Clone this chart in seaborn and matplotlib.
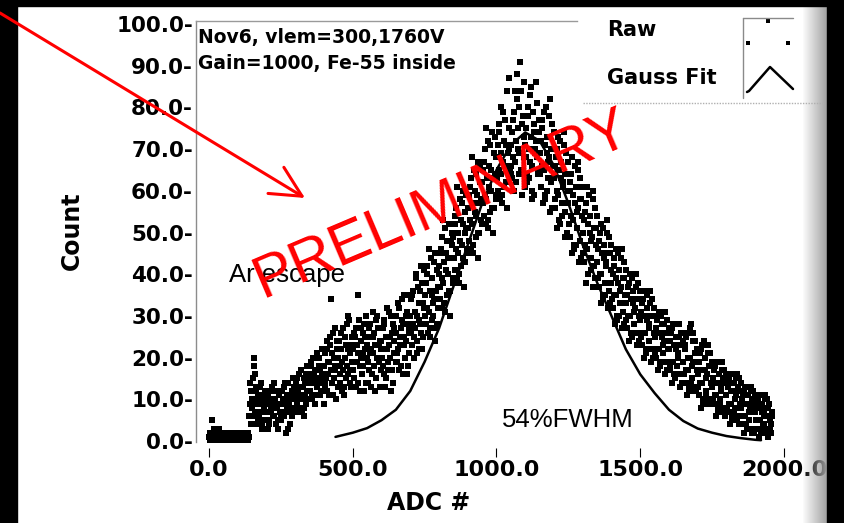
import numpy as np
import pandas as pd
import matplotlib
matplotlib.use("Agg")
import matplotlib.pyplot as plt
import seaborn as sns
from matplotlib.patches import Rectangle, FancyArrowPatch

# ADC channel grid of the raw spectrum (every 5th channel)
channels = np.arange(0, 1960, 5)

# three readings of the scattered counts per channel step, one line = 50 ADC
counts_a = [
    1, 0, 5, 1, 2, 0, 1, 3, 1, 0,
    1, 2, 1, 0, 1, 1, 2, 1, 0, 1,
    1, 0, 2, 1, 1, 0, 1, 2, 6, 12,
    10, 20, 7, 13, 5, 9, 11, 3, 8, 12,
    7, 11, 4, 9, 13, 6, 10, 8, 3, 12,
    9, 12, 6, 14, 8, 3, 11, 10, 7, 13,
    11, 15, 8, 13, 17, 10, 6, 14, 12, 18,
    15, 19, 11, 16, 9, 21, 14, 17, 12, 18,
    18, 13, 22, 16, 25, 34, 11, 20, 17, 24,
    20, 14, 26, 17, 11, 23, 28, 16, 21, 13,
    22, 15, 27, 19, 35, 12, 24, 18, 28, 14,
    23, 17, 28, 13, 21, 26, 15, 30, 19, 24,
    24, 18, 29, 15, 22, 31, 20, 26, 14, 27,
    26, 19, 32, 23, 29, 16, 35, 24, 28, 21,
    30, 23, 36, 27, 40, 21, 33, 28, 38, 25,
    35, 28, 42, 31, 25, 39, 33, 45, 27, 37,
    42, 34, 49, 38, 31, 45, 40, 52, 36, 47,
    49, 41, 56, 45, 38, 53, 47, 60, 43, 51,
    56, 48, 63, 52, 45, 60, 54, 67, 50, 58,
    62, 54, 70, 58, 51, 66, 60, 74, 56, 64,
    68, 60, 76, 64, 57, 72, 66, 84, 62, 70,
    71, 63, 79, 67, 88, 75, 69, 84, 65, 73,
    71, 64, 78, 67, 85, 60, 74, 69, 81, 65,
    69, 61, 77, 65, 58, 73, 67, 82, 62, 70,
    63, 56, 70, 59, 52, 67, 61, 74, 55, 64,
    57, 49, 64, 53, 46, 61, 55, 67, 48, 58,
    50, 43, 57, 46, 40, 54, 48, 60, 42, 51,
    43, 37, 50, 40, 34, 47, 42, 53, 36, 45,
    38, 32, 44, 35, 29, 41, 36, 46, 31, 39,
    33, 27, 38, 30, 25, 36, 31, 40, 26, 34,
    29, 23, 34, 26, 21, 32, 27, 36, 22, 30,
    25, 20, 30, 22, 18, 28, 23, 31, 19, 26,
    22, 17, 27, 19, 15, 25, 20, 28, 16, 23,
    19, 14, 25, 17, 12, 28, 18, 26, 13, 21,
    16, 11, 22, 14, 9, 20, 15, 23, 10, 18,
    13, 9, 18, 11, 7, 16, 12, 19, 8, 14,
    11, 7, 15, 9, 5, 14, 10, 16, 6, 12,
    8, 4, 12, 6, 3, 11, 7, 13, 2, 9,
    7, 3, 10, 5, 2, 9, 6, 11, 3, 8, 5, 2,
]
counts_b = [
    0, 2, 1, 0, 1, 2, 0, 1, 2, 1,
    0, 1, 1, 2, 0, 1, 1, 0, 2, 1,
    2, 1, 1, 0, 2, 1, 2, 1, 9, 4,
    6, 18, 12, 4, 10, 7, 14, 9, 5, 11,
    10, 5, 12, 8, 6, 14, 4, 9, 11, 7,
    5, 10, 13, 7, 11, 9, 4, 12, 15, 8,
    14, 9, 16, 11, 7, 13, 15, 9, 18, 12,
    12, 16, 20, 9, 15, 13, 18, 11, 22, 14,
    21, 15, 12, 19, 23, 14, 26, 18, 10, 20,
    24, 18, 12, 27, 20, 15, 22, 29, 17, 25,
    17, 25, 13, 21, 29, 20, 16, 26, 22, 30,
    19, 27, 22, 16, 25, 12, 29, 20, 23, 17,
    20, 28, 13, 25, 19, 23, 30, 17, 24, 21,
    30, 22, 17, 27, 34, 25, 20, 31, 18, 26,
    26, 35, 20, 31, 24, 37, 29, 42, 22, 32,
    30, 40, 26, 36, 44, 29, 34, 24, 41, 32,
    37, 46, 32, 43, 51, 35, 44, 30, 48, 39,
    44, 54, 39, 50, 58, 42, 52, 37, 55, 46,
    51, 61, 46, 57, 65, 49, 59, 44, 62, 53,
    57, 67, 52, 63, 72, 55, 65, 50, 69, 59,
    63, 74, 58, 69, 79, 61, 71, 56, 87, 65,
    66, 77, 60, 72, 82, 64, 91, 59, 78, 68,
    75, 62, 70, 83, 66, 79, 59, 72, 68, 77,
    64, 75, 57, 71, 80, 60, 68, 55, 76, 66,
    58, 68, 51, 65, 72, 54, 62, 49, 69, 60,
    52, 62, 45, 59, 66, 47, 56, 43, 63, 54,
    45, 55, 38, 52, 59, 41, 49, 37, 56, 47,
    39, 48, 33, 45, 51, 35, 43, 32, 49, 41,
    34, 42, 28, 39, 45, 30, 37, 27, 43, 35,
    29, 37, 24, 34, 39, 26, 32, 23, 38, 30,
    25, 33, 20, 30, 35, 22, 28, 19, 34, 26,
    21, 29, 17, 26, 30, 19, 24, 16, 29, 22,
    18, 26, 14, 23, 28, 16, 21, 13, 26, 19,
    16, 23, 11, 20, 27, 14, 19, 12, 24, 17,
    13, 21, 8, 17, 24, 11, 16, 9, 21, 14,
    10, 17, 6, 14, 19, 9, 13, 7, 17, 11,
    8, 14, 4, 12, 16, 7, 11, 5, 15, 9,
    6, 11, 2, 9, 13, 5, 8, 3, 12, 7,
    5, 9, 1, 8, 11, 4, 7, 2, 10, 6, 3, 6,
]
counts_c = [
    2, 1, 0, 3, 1, 1, 2, 0, 1, 2,
    2, 1, 0, 1, 2, 1, 0, 1, 1, 2,
    0, 1, 1, 2, 1, 1, 0, 1, 14, 8,
    15, 16, 9, 11, 6, 13, 4, 10, 7, 9,
    3, 9, 7, 13, 10, 8, 12, 5, 9, 6,
    12, 7, 9, 2, 14, 10, 8, 6, 11, 10,
    7, 12, 10, 17, 13, 8, 11, 16, 10, 14,
    18, 10, 14, 17, 13, 11, 20, 15, 16, 9,
    14, 24, 19, 11, 17, 21, 15, 27, 22, 13,
    16, 22, 19, 13, 25, 18, 30, 14, 23, 19,
    26, 19, 23, 14, 18, 27, 21, 12, 25, 20,
    14, 21, 25, 31, 18, 23, 20, 27, 13, 22,
    27, 16, 22, 32, 17, 25, 12, 28, 21, 19,
    21, 33, 25, 18, 28, 23, 30, 16, 27, 35,
    34, 28, 25, 39, 30, 22, 36, 26, 33, 41,
    38, 32, 46, 27, 35, 30, 43, 36, 28, 40,
    45, 39, 53, 33, 41, 48, 36, 44, 50, 38,
    52, 46, 61, 40, 48, 57, 44, 50, 59, 45,
    59, 53, 68, 47, 55, 64, 50, 57, 66, 52,
    65, 59, 75, 53, 61, 71, 56, 63, 73, 58,
    71, 65, 80, 59, 67, 77, 62, 69, 75, 64,
    74, 68, 84, 62, 70, 80, 65, 76, 86, 61,
    68, 80, 63, 73, 58, 76, 70, 86, 64, 74,
    72, 66, 79, 59, 69, 63, 78, 70, 56, 74,
    66, 60, 73, 53, 63, 57, 71, 64, 50, 67,
    60, 54, 68, 47, 57, 51, 65, 58, 44, 61,
    53, 47, 61, 40, 50, 44, 58, 51, 39, 54,
    46, 40, 52, 35, 44, 38, 50, 45, 33, 47,
    40, 35, 46, 30, 38, 33, 44, 39, 28, 41,
    35, 30, 40, 26, 33, 28, 37, 34, 24, 36,
    31, 26, 36, 22, 29, 24, 33, 30, 20, 32,
    27, 22, 31, 19, 25, 21, 28, 26, 17, 27,
    24, 19, 28, 16, 22, 18, 25, 23, 14, 24,
    22, 17, 26, 13, 20, 15, 24, 21, 12, 22,
    19, 14, 23, 10, 17, 12, 21, 18, 9, 19,
    15, 11, 19, 8, 14, 10, 17, 15, 6, 16,
    13, 9, 16, 6, 12, 8, 15, 13, 4, 14,
    10, 6, 13, 4, 9, 5, 12, 10, 2, 11,
    8, 5, 11, 3, 7, 4, 10, 8, 1, 9, 4, 7,
]

# gauss fit curve (hidden part under the data estimated)
fit_adc = [440, 500, 550, 600, 650, 700, 750, 800, 850, 900, 950, 1000,
           1050, 1100, 1150, 1200, 1250, 1300, 1350, 1400, 1450, 1500,
           1550, 1600, 1650, 1700, 1750, 1800, 1850, 1900, 1920]
fit_count = [1.0, 2.0, 3.1, 5.0, 7.5, 12, 19, 27, 37, 47, 57, 65,
             71, 74, 72, 66, 57, 47, 38, 30, 22, 16,
             11.5, 7.5, 4.8, 3.0, 2.0, 1.2, 0.7, 0.3, 0.2]

x_ticks = [0, 500, 1000, 1500, 2000]
x_tick_labels = ["0.0", "500.0", "1000.0", "1500.0", "2000.0"]
y_ticks = [0, 10, 20, 30, 40, 50, 60, 70, 80, 90, 100]
y_tick_labels = ["0.0-", "10.0-", "20.0-", "30.0-", "40.0-", "50.0-",
                 "60.0-", "70.0-", "80.0-", "90.0-", "100.0-"]

header_lines = ["Nov6, vlem=300,1760V", "Gain=1000, Fe-55 inside"]
legend_labels = ["Raw", "Gauss Fit"]

sns.set_style("white")
plt.rcParams["font.family"] = ["DejaVu Sans"]
plt.rcParams["text.color"] = "black"
plt.rcParams["axes.labelcolor"] = "black"
plt.rcParams["xtick.color"] = "black"
plt.rcParams["ytick.color"] = "black"

W, H = 844, 523
fig = plt.figure(figsize=(W / 100, H / 100), dpi=100)
fig.patch.set_facecolor("white")

# plot area in pixels
ax_l, ax_r, ax_t, ax_b = 196, 800, 21.1, 442.3
ax = fig.add_axes([ax_l / W, 1 - ax_b / H, (ax_r - ax_l) / W, (ax_b - ax_t) / H])


def ax_y(py):
    return (ax_b - py) / (ax_b - ax_t)


# the three readings sit on slightly shifted channels
raw = pd.DataFrame({
    "adc": np.concatenate([channels, channels + 2, channels + 4]),
    "count": counts_a + counts_b + counts_c,
})
fit = pd.DataFrame({"adc": fit_adc, "count": fit_count})

sns.lineplot(data=fit, x="adc", y="count", color="black", linewidth=1.8,
             ax=ax, zorder=2)
sns.scatterplot(data=raw, x="adc", y="count", marker="s", s=16,
                color="black", linewidth=0, ax=ax, zorder=3)

ax.set_xlim(-45.2, 2055.7)
ax.set_ylim(-0.3, 100.7)

ax.spines["right"].set_visible(False)
ax.spines["bottom"].set_visible(False)
ax.spines["bottom"].set_position(("outward", 4.3))
ax.spines["left"].set_color("#8c8c8c")
ax.spines["left"].set_linewidth(1.0)
ax.spines["top"].set_color("#9a9a9a")
ax.spines["top"].set_linewidth(1.0)
ax.spines["top"].set_bounds(-45.2, 1280)

ax.set_xticks(x_ticks, x_tick_labels)
ax.set_yticks(y_ticks, y_tick_labels)
ax.tick_params(axis="x", bottom=True, direction="out", length=6.5, width=0.8,
               color="black", pad=2, labelsize=16, labelcolor="black")
ax.tick_params(axis="y", left=False, length=0, pad=2.2, labelsize=15.5,
               labelcolor="black")
for lbl in ax.get_xticklabels() + ax.get_yticklabels():
    lbl.set_fontweight("bold")

ax.set_xlabel("ADC #", fontsize=17, fontweight="bold", va="center",
              color="black")
ax.xaxis.set_label_coords((429 - ax_l) / (ax_r - ax_l), ax_y(503))
ax.set_ylabel("Count", fontsize=17, fontweight="bold", va="center",
              color="black")
ax.yaxis.set_label_coords((72 - ax_l) / (ax_r - ax_l), ax_y(231))

for line, py in zip(header_lines, [38, 63]):
    ax.text(0.004, ax_y(py), line, transform=ax.transAxes, fontsize=13.5,
            fontweight="bold", va="center", ha="left", color="black")

ax.text(70, 38.1, "Ar escape", family="Liberation Sans", fontsize=18.5,
        va="baseline", color="black", zorder=4)
ax.text(1019, 3.4, "54%FWHM", family="Liberation Sans", fontsize=18.5,
        va="baseline", color="black", zorder=4)
ax.text(810, 56.6, "PRELIMINARY", family="Liberation Sans", fontsize=43,
        color="red", rotation=23, ha="center", va="center", zorder=6)

# overlay in figure pixels: frame strips, legend and arrow
ov = fig.add_axes([0, 0, 1, 1], zorder=5)
ov.set_xlim(0, W)
ov.set_ylim(H, 0)
ov.axis("off")

ov.add_patch(Rectangle((0, 0), 17, H, color="black", zorder=1))
ov.add_patch(Rectangle((0, 0), W, 6, color="black", zorder=1))
ov.add_patch(Rectangle((827, 0), W - 827, H, color="black", zorder=1))
shade = np.zeros((1, 24, 4))
shade[..., :3] = 0.62
shade[..., 3] = np.linspace(0.05, 0.95, 24)
ov.imshow(shade, extent=(803, 827, H, 6), aspect="auto", zorder=0.5)

ov.text(607, 30, legend_labels[0], fontsize=15, fontweight="bold",
        va="center", color="black")
ov.text(607, 78, legend_labels[1], fontsize=15, fontweight="bold",
        va="center", color="black")
ov.plot([743, 793], [18, 18], color="#8a8a8a", lw=1)
ov.plot([743, 743], [18, 98], color="#8a8a8a", lw=1)
ov.plot([583, 823], [103, 103], color="#b0b0b0", lw=1, ls=(0, (1, 1)))
ov.scatter([768, 748, 788], [21, 43, 43], marker="s", s=10, color="black",
           linewidths=0)
ov.plot([747, 749, 770, 793], [92, 91, 67, 89], color="black", lw=1.8)

ov.add_patch(FancyArrowPatch((0, 13), (305, 198),
                             arrowstyle="->,head_length=1.1,head_width=0.55",
                             mutation_scale=20, color="red", lw=2.2,
                             shrinkA=0, shrinkB=0, zorder=4))

fig.savefig("out.png", dpi=100)
